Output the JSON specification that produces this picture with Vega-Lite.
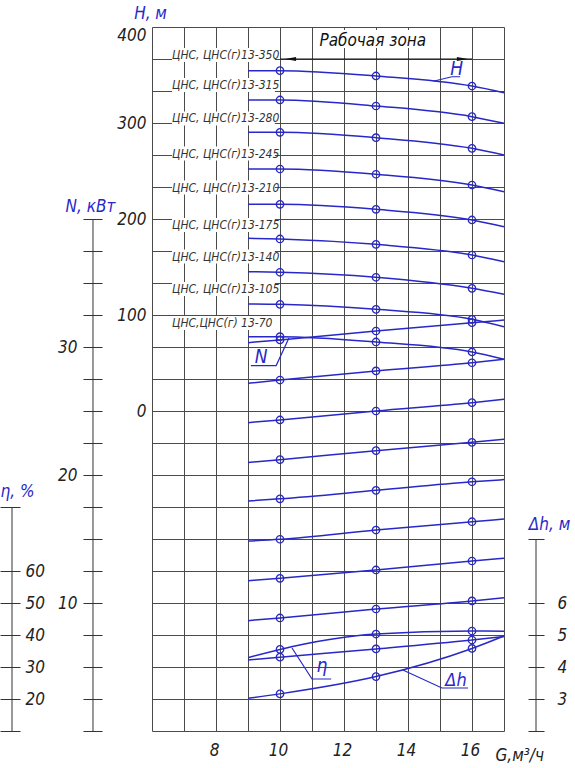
{
  "$schema": "https://vega.github.io/schema/vega-lite/v6.json",
  "width": 352,
  "height": 704,
  "autosize": {"type": "none"},
  "padding": {"left": 152, "top": 27, "right": 71, "bottom": 37},
  "background": "white",
  "config": {
    "view": {"stroke": null},
    "axis": {
      "labelFont": "DejaVu Sans Condensed, DejaVu Sans, sans-serif",
      "titleFont": "DejaVu Sans Condensed, DejaVu Sans, sans-serif",
      "labelFontStyle": "italic",
      "titleFontStyle": "italic",
      "labelColor": "#222222",
      "titleColor": "#2828c8",
      "labelFontSize": 17,
      "titleFontSize": 17,
      "titleFontWeight": "normal",
      "gridColor": "#4a4a4a",
      "gridOpacity": 1,
      "gridWidth": 1,
      "tickColor": "#333333",
      "tickWidth": 1,
      "domain": false,
      "labelOverlap": false
    },
    "text": {"font": "DejaVu Sans Condensed, DejaVu Sans, sans-serif", "fontStyle": "italic"}
  },
  "datasets": {
    "hc": [
      {"pump": "350", "G": 9, "H": 354.5}, {"pump": "350", "G": 10, "H": 354.5}, {"pump": "350", "G": 13, "H": 349.0}, {"pump": "350", "G": 16, "H": 338.5}, {"pump": "350", "G": 17, "H": 331.6},
      {"pump": "315", "G": 9, "H": 324.0}, {"pump": "315", "G": 10, "H": 324.0}, {"pump": "315", "G": 13, "H": 317.7}, {"pump": "315", "G": 16, "H": 306.6}, {"pump": "315", "G": 17, "H": 299.7},
      {"pump": "280", "G": 9, "H": 290.3}, {"pump": "280", "G": 10, "H": 290.3}, {"pump": "280", "G": 13, "H": 284.7}, {"pump": "280", "G": 16, "H": 273.6}, {"pump": "280", "G": 17, "H": 266.7},
      {"pump": "245", "G": 9, "H": 252.1}, {"pump": "245", "G": 10, "H": 252.1}, {"pump": "245", "G": 13, "H": 246.6}, {"pump": "245", "G": 16, "H": 235.4}, {"pump": "245", "G": 17, "H": 228.4},
      {"pump": "210", "G": 9, "H": 215.3}, {"pump": "210", "G": 10, "H": 215.3}, {"pump": "210", "G": 13, "H": 210.1}, {"pump": "210", "G": 16, "H": 199.0}, {"pump": "210", "G": 17, "H": 192.0},
      {"pump": "175", "G": 9, "H": 179.9}, {"pump": "175", "G": 10, "H": 179.2}, {"pump": "175", "G": 13, "H": 173.6}, {"pump": "175", "G": 16, "H": 162.5}, {"pump": "175", "G": 17, "H": 155.5},
      {"pump": "140", "G": 9, "H": 145.1}, {"pump": "140", "G": 10, "H": 144.5}, {"pump": "140", "G": 13, "H": 139.3}, {"pump": "140", "G": 16, "H": 127.8}, {"pump": "140", "G": 17, "H": 121.6},
      {"pump": "105", "G": 9, "H": 111.5}, {"pump": "105", "G": 10, "H": 111.1}, {"pump": "105", "G": 13, "H": 105.9}, {"pump": "105", "G": 16, "H": 95.5}, {"pump": "105", "G": 17, "H": 87.8},
      {"pump": "70", "G": 9, "H": 77.4}, {"pump": "70", "G": 10, "H": 77.4}, {"pump": "70", "G": 13, "H": 71.9}, {"pump": "70", "G": 16, "H": 61.5}, {"pump": "70", "G": 17, "H": 53.9}
    ],
    "nc": [
      {"pump": "350", "G": 9, "N": 30.34}, {"pump": "350", "G": 10, "N": 30.55}, {"pump": "350", "G": 13, "N": 31.25}, {"pump": "350", "G": 16, "N": 31.9}, {"pump": "350", "G": 17, "N": 32.1},
      {"pump": "315", "G": 9, "N": 27.16}, {"pump": "315", "G": 10, "N": 27.42}, {"pump": "315", "G": 13, "N": 28.13}, {"pump": "315", "G": 16, "N": 28.77}, {"pump": "315", "G": 17, "N": 29.04},
      {"pump": "280", "G": 9, "N": 24.09}, {"pump": "280", "G": 10, "N": 24.3}, {"pump": "280", "G": 13, "N": 25.0}, {"pump": "280", "G": 16, "N": 25.65}, {"pump": "280", "G": 17, "N": 25.91},
      {"pump": "245", "G": 9, "N": 20.98}, {"pump": "245", "G": 10, "N": 21.2}, {"pump": "245", "G": 13, "N": 21.9}, {"pump": "245", "G": 16, "N": 22.55}, {"pump": "245", "G": 17, "N": 22.79},
      {"pump": "210", "G": 9, "N": 17.97}, {"pump": "210", "G": 10, "N": 18.14}, {"pump": "210", "G": 13, "N": 18.8}, {"pump": "210", "G": 16, "N": 19.47}, {"pump": "210", "G": 17, "N": 19.64},
      {"pump": "175", "G": 9, "N": 14.84}, {"pump": "175", "G": 10, "N": 14.98}, {"pump": "175", "G": 13, "N": 15.7}, {"pump": "175", "G": 16, "N": 16.35}, {"pump": "175", "G": 17, "N": 16.56},
      {"pump": "140", "G": 9, "N": 11.74}, {"pump": "140", "G": 10, "N": 11.93}, {"pump": "140", "G": 13, "N": 12.58}, {"pump": "140", "G": 16, "N": 13.28}, {"pump": "140", "G": 17, "N": 13.49},
      {"pump": "105", "G": 9, "N": 8.62}, {"pump": "105", "G": 10, "N": 8.83}, {"pump": "105", "G": 13, "N": 9.53}, {"pump": "105", "G": 16, "N": 10.16}, {"pump": "105", "G": 17, "N": 10.41},
      {"pump": "70", "G": 9, "N": 5.55}, {"pump": "70", "G": 10, "N": 5.77}, {"pump": "70", "G": 13, "N": 6.41}, {"pump": "70", "G": 16, "N": 7.11}, {"pump": "70", "G": 17, "N": 7.38}
    ],
    "eta": [
      {"G": 9, "eta": 32.9}, {"G": 10, "eta": 35.5}, {"G": 13, "eta": 40.3}, {"G": 16, "eta": 41.25}, {"G": 17, "eta": 41.2}
    ],
    "dh": [
      {"G": 9, "dh": 3.02}, {"G": 10, "dh": 3.16}, {"G": 13, "dh": 3.70}, {"G": 16, "dh": 4.58}, {"G": 17, "dh": 4.97}
    ],
    "pumplabels": [
      {"text": "ЦНС, ЦНС(г)13-350", "G": 6.625, "G2": 9.84, "H": 370.8},
      {"text": "ЦНС, ЦНС(г)13-315", "G": 6.625, "G2": 9.84, "H": 339.6},
      {"text": "ЦНС, ЦНС(г)13-280", "G": 6.625, "G2": 9.84, "H": 304.7},
      {"text": "ЦНС, ЦНС(г)13-245", "G": 6.625, "G2": 9.84, "H": 268.2},
      {"text": "ЦНС, ЦНС(г)13-210", "G": 6.625, "G2": 9.84, "H": 232.8},
      {"text": "ЦНС, ЦНС(г)13-175", "G": 6.625, "G2": 9.84, "H": 193.75},
      {"text": "ЦНС, ЦНС(г)13-140", "G": 6.625, "G2": 9.84, "H": 160.9},
      {"text": "ЦНС, ЦНС(г)13-105", "G": 6.625, "G2": 9.84, "H": 127.1},
      {"text": "ЦНС,ЦНС(г) 13-70", "G": 6.625, "G2": 9.84, "H": 91.7}
    ]
  },
  "encoding": {
    "x": {
      "field": "G",
      "type": "quantitative",
      "scale": {"domain": [6, 17], "nice": false, "zero": false},
      "axis": {
        "grid": true,
        "values": [6, 7, 8, 9, 10, 11, 12, 13, 14, 15, 16, 17],
        "ticks": false,
        "domain": false,
        "labelExpr": "(datum.value % 2 == 0 && datum.value >= 8 && datum.value <= 16) ? datum.label : ''",
        "labelPadding": 11,
        "labelOffset": -2,
        "title": "G,м³/ч",
        "titleAngle": 0,
        "titleX": 343,
        "titleY": 29,
        "titleAlign": "left",
        "titleBaseline": "alphabetic",
        "titleColor": "#222222"
      }
    }
  },
  "layer": [
    {
      "data": {"values": [{"G": 6, "gy": 0}]},
      "mark": {"type": "point", "opacity": 0},
      "encoding": {
        "y": {
          "field": "gy",
          "type": "quantitative",
          "scale": {"domain": [0, 22], "nice": false, "zero": false},
          "axis": {"orient": "left", "grid": true, "values": [0, 1, 2, 3, 4, 5, 6, 7, 8, 9, 10, 11, 12, 13, 14, 15, 16, 17, 18, 19, 20, 21, 22], "labels": false, "ticks": false, "domain": false, "title": null}
        }
      }
    },
    {
      "data": {"name": "hc"},
      "mark": {"type": "line", "interpolate": "monotone", "color": "#2828c8", "strokeWidth": 1.5},
      "encoding": {
        "y": {"field": "H", "type": "quantitative", "scale": {"domain": [-333.333, 400], "nice": false, "zero": false}, "axis": {"orient": "left", "values": [0, 100, 200, 300, 400], "ticks": false, "labelPadding": 6, "labelFlush": true, "grid": false, "title": "H, м", "titleAngle": 0, "titleAlign": "center", "titleBaseline": "alphabetic", "titleX": -2, "titleY": -9}},
        "detail": {"field": "pump"}
      }
    },
    {
      "data": {"name": "pumplabels"},
      "mark": {"type": "rect", "color": "white", "opacity": 1, "yOffset": -7, "y2Offset": 7},
      "encoding": {
        "x": {"field": "G", "type": "quantitative"},
        "x2": {"field": "G2"},
        "y": {"field": "H", "type": "quantitative", "scale": {"domain": [-333.333, 400], "nice": false, "zero": false}, "axis": null},
        "y2": {"field": "H"}
      }
    },
    {
      "data": {"name": "pumplabels"},
      "mark": {"type": "text", "align": "left", "baseline": "middle", "fontSize": 12, "color": "#333333"},
      "encoding": {
        "y": {"field": "H", "type": "quantitative", "scale": {"domain": [-333.333, 400], "nice": false, "zero": false}, "axis": null},
        "text": {"field": "text"}
      }
    },
    {
      "data": {"values": [{"G": 11.19, "G2": 14.69, "H": 387.5}]},
      "mark": {"type": "rect", "color": "white", "opacity": 1, "yOffset": -9, "y2Offset": 9},
      "encoding": {
        "x": {"field": "G", "type": "quantitative"},
        "x2": {"field": "G2"},
        "y": {"field": "H", "type": "quantitative", "scale": {"domain": [-333.333, 400], "nice": false, "zero": false}, "axis": null},
        "y2": {"field": "H"}
      }
    },
    {
      "data": {"values": [{"G": 12.9, "H": 380.2, "text": "Рабочая зона"}]},
      "mark": {"type": "text", "align": "center", "baseline": "alphabetic", "fontSize": 17, "color": "#111111"},
      "encoding": {
        "y": {"field": "H", "type": "quantitative", "scale": {"domain": [-333.333, 400], "nice": false, "zero": false}, "axis": null},
        "text": {"field": "text"}
      }
    },
    {
      "data": {"values": [{"G": 10, "G2": 16, "H": 366.667}]},
      "mark": {"type": "rule", "color": "#111111", "strokeWidth": 1.2},
      "encoding": {
        "x": {"field": "G", "type": "quantitative"},
        "x2": {"field": "G2"},
        "y": {"field": "H", "type": "quantitative", "scale": {"domain": [-333.333, 400], "nice": false, "zero": false}, "axis": null}
      }
    },
    {
      "data": {"values": [{"G": 10.33, "H": 366.667}]},
      "mark": {"type": "point", "shape": "M -1 0 L 1 -0.35 L 1 0.35 Z", "filled": true, "size": 121, "color": "#111111", "opacity": 1},
      "encoding": {
        "y": {"field": "H", "type": "quantitative", "scale": {"domain": [-333.333, 400], "nice": false, "zero": false}, "axis": null}
      }
    },
    {
      "data": {"values": [{"G": 15.7, "H": 366.667}]},
      "mark": {"type": "point", "shape": "M 1 0 L -1 -0.35 L -1 0.35 Z", "filled": true, "size": 121, "color": "#111111", "opacity": 1},
      "encoding": {
        "y": {"field": "H", "type": "quantitative", "scale": {"domain": [-333.333, 400], "nice": false, "zero": false}, "axis": null}
      }
    },
    {
      "data": {"name": "hc"},
      "transform": [{"filter": {"field": "G", "oneOf": [10, 13, 16]}}],
      "mark": {"type": "point", "shape": "circle", "filled": false, "size": 55, "color": "#2828c8", "strokeWidth": 1.3, "opacity": 1},
      "encoding": {
        "y": {"field": "H", "type": "quantitative", "scale": {"domain": [-333.333, 400], "nice": false, "zero": false}, "axis": null}
      }
    },
    {
      "data": {"values": [{"G": 14.79, "H": 343.5}, {"G": 15.37, "H": 348.2}, {"G": 15.63, "H": 348.2}]},
      "mark": {"type": "line", "color": "#2828c8", "strokeWidth": 1.2},
      "encoding": {
        "y": {"field": "H", "type": "quantitative", "scale": {"domain": [-333.333, 400], "nice": false, "zero": false}, "axis": null}
      }
    },
    {
      "data": {"values": [{"G": 15.52, "H": 349.6, "text": "H"}]},
      "mark": {"type": "text", "align": "center", "baseline": "alphabetic", "fontSize": 19, "color": "#2828c8"},
      "encoding": {
        "y": {"field": "H", "type": "quantitative", "scale": {"domain": [-333.333, 400], "nice": false, "zero": false}, "axis": null},
        "text": {"field": "text"}
      }
    },
    {
      "data": {"name": "nc"},
      "mark": {"type": "line", "interpolate": "monotone", "color": "#2828c8", "strokeWidth": 1.5},
      "encoding": {
        "y": {"field": "N", "type": "quantitative", "scale": {"domain": [0, 55], "nice": false, "zero": false}, "axis": {"orient": "left", "offset": 50, "values": [0, 2.5, 5, 7.5, 10, 12.5, 15, 17.5, 20, 22.5, 25, 27.5, 30, 32.5, 35, 37.5, 40], "tickSize": 19, "labelPadding": 6, "grid": false, "labelExpr": "(datum.value == 10 || datum.value == 20 || datum.value == 30) ? datum.label : ''", "title": "N, кВт", "titleAngle": 0, "titleAlign": "center", "titleBaseline": "alphabetic", "titleX": -12, "titleY": 184}},
        "detail": {"field": "pump"}
      }
    },
    {
      "data": {"name": "nc"},
      "transform": [{"filter": {"field": "G", "oneOf": [10, 13, 16]}}],
      "mark": {"type": "point", "shape": "circle", "filled": false, "size": 55, "color": "#2828c8", "strokeWidth": 1.3, "opacity": 1},
      "encoding": {
        "y": {"field": "N", "type": "quantitative", "scale": {"domain": [0, 55], "nice": false, "zero": false}, "axis": null}
      }
    },
    {
      "data": {"values": [{"G": 4.156, "N": 0, "N2": 40}]},
      "mark": {"type": "rule", "color": "#333333", "strokeWidth": 1, "clip": false},
      "encoding": {
        "y": {"field": "N", "type": "quantitative", "scale": {"domain": [0, 55], "nice": false, "zero": false}, "axis": null},
        "y2": {"field": "N2"}
      }
    },
    {
      "data": {"values": [{"G": 9.09, "N": 28.55}, {"G": 9.88, "N": 28.55}, {"G": 10.28, "N": 30.7}]},
      "mark": {"type": "line", "color": "#2828c8", "strokeWidth": 1.2},
      "encoding": {
        "y": {"field": "N", "type": "quantitative", "scale": {"domain": [0, 55], "nice": false, "zero": false}, "axis": null}
      }
    },
    {
      "data": {"values": [{"G": 9.41, "N": 28.72, "text": "N"}]},
      "mark": {"type": "text", "align": "center", "baseline": "alphabetic", "fontSize": 19, "color": "#2828c8"},
      "encoding": {
        "y": {"field": "N", "type": "quantitative", "scale": {"domain": [0, 55], "nice": false, "zero": false}, "axis": null},
        "text": {"field": "text"}
      }
    },
    {
      "data": {"name": "eta"},
      "mark": {"type": "line", "interpolate": "monotone", "color": "#2828c8", "strokeWidth": 1.5},
      "encoding": {
        "y": {"field": "eta", "type": "quantitative", "scale": {"domain": [10, 230], "nice": false, "zero": false}, "axis": {"orient": "left", "offset": 132, "values": [10, 20, 30, 40, 50, 60, 80], "tickSize": 20, "labelAlign": "left", "labelPadding": -25, "grid": false, "labelExpr": "(datum.value >= 20 && datum.value <= 60) ? datum.label : ''", "title": "η, %", "titleAngle": 0, "titleAlign": "center", "titleBaseline": "alphabetic", "titleX": -3, "titleY": 469}}
      }
    },
    {
      "data": {"name": "eta"},
      "transform": [{"filter": {"field": "G", "oneOf": [10, 13, 16]}}],
      "mark": {"type": "point", "shape": "circle", "filled": false, "size": 55, "color": "#2828c8", "strokeWidth": 1.3, "opacity": 1},
      "encoding": {
        "y": {"field": "eta", "type": "quantitative", "scale": {"domain": [10, 230], "nice": false, "zero": false}, "axis": null}
      }
    },
    {
      "data": {"values": [{"G": 1.625, "eta": 10, "eta2": 80}]},
      "mark": {"type": "rule", "color": "#333333", "strokeWidth": 1, "clip": false},
      "encoding": {
        "y": {"field": "eta", "type": "quantitative", "scale": {"domain": [10, 230], "nice": false, "zero": false}, "axis": null},
        "y2": {"field": "eta2"}
      }
    },
    {
      "data": {"values": [{"G": 10.375, "eta": 35.94}, {"G": 11.0, "eta": 26.25}, {"G": 11.6, "eta": 26.25}]},
      "mark": {"type": "line", "color": "#2828c8", "strokeWidth": 1.2},
      "encoding": {
        "y": {"field": "eta", "type": "quantitative", "scale": {"domain": [10, 230], "nice": false, "zero": false}, "axis": null}
      }
    },
    {
      "data": {"values": [{"G": 11.31, "eta": 28.4, "text": "η"}]},
      "mark": {"type": "text", "align": "center", "baseline": "alphabetic", "fontSize": 19, "color": "#2828c8"},
      "encoding": {
        "y": {"field": "eta", "type": "quantitative", "scale": {"domain": [10, 230], "nice": false, "zero": false}, "axis": null},
        "text": {"field": "text"}
      }
    },
    {
      "data": {"name": "dh"},
      "mark": {"type": "line", "interpolate": "monotone", "color": "#2828c8", "strokeWidth": 1.5},
      "encoding": {
        "y": {"field": "dh", "type": "quantitative", "scale": {"domain": [2, 24], "nice": false, "zero": false}, "axis": {"orient": "right", "offset": 24, "values": [2, 3, 4, 5, 6, 8], "tickSize": 16, "labelPadding": 13, "grid": false, "labelExpr": "(datum.value >= 3 && datum.value <= 6) ? datum.label : ''", "title": "Δh, м", "titleAngle": 0, "titleAlign": "center", "titleBaseline": "alphabetic", "titleX": 21, "titleY": 502}}
      }
    },
    {
      "data": {"name": "dh"},
      "transform": [{"filter": {"field": "G", "oneOf": [10, 13, 16]}}],
      "mark": {"type": "point", "shape": "circle", "filled": false, "size": 55, "color": "#2828c8", "strokeWidth": 1.3, "opacity": 1},
      "encoding": {
        "y": {"field": "dh", "type": "quantitative", "scale": {"domain": [2, 24], "nice": false, "zero": false}, "axis": null}
      }
    },
    {
      "data": {"values": [{"G": 18.0, "dh": 2, "dh2": 8}]},
      "mark": {"type": "rule", "color": "#333333", "strokeWidth": 1, "clip": false},
      "encoding": {
        "y": {"field": "dh", "type": "quantitative", "scale": {"domain": [2, 24], "nice": false, "zero": false}, "axis": null},
        "y2": {"field": "dh2"}
      }
    },
    {
      "data": {"values": [{"G": 13.84, "dh": 3.906}, {"G": 15.06, "dh": 3.344}, {"G": 15.875, "dh": 3.344}]},
      "mark": {"type": "line", "color": "#2828c8", "strokeWidth": 1.2},
      "encoding": {
        "y": {"field": "dh", "type": "quantitative", "scale": {"domain": [2, 24], "nice": false, "zero": false}, "axis": null}
      }
    },
    {
      "data": {"values": [{"G": 15.5, "dh": 3.42, "text": "Δh"}]},
      "mark": {"type": "text", "align": "center", "baseline": "alphabetic", "fontSize": 18, "color": "#2828c8"},
      "encoding": {
        "y": {"field": "dh", "type": "quantitative", "scale": {"domain": [2, 24], "nice": false, "zero": false}, "axis": null},
        "text": {"field": "text"}
      }
    }
  ],
  "resolve": {"scale": {"y": "independent"}, "axis": {"y": "independent"}}
}
